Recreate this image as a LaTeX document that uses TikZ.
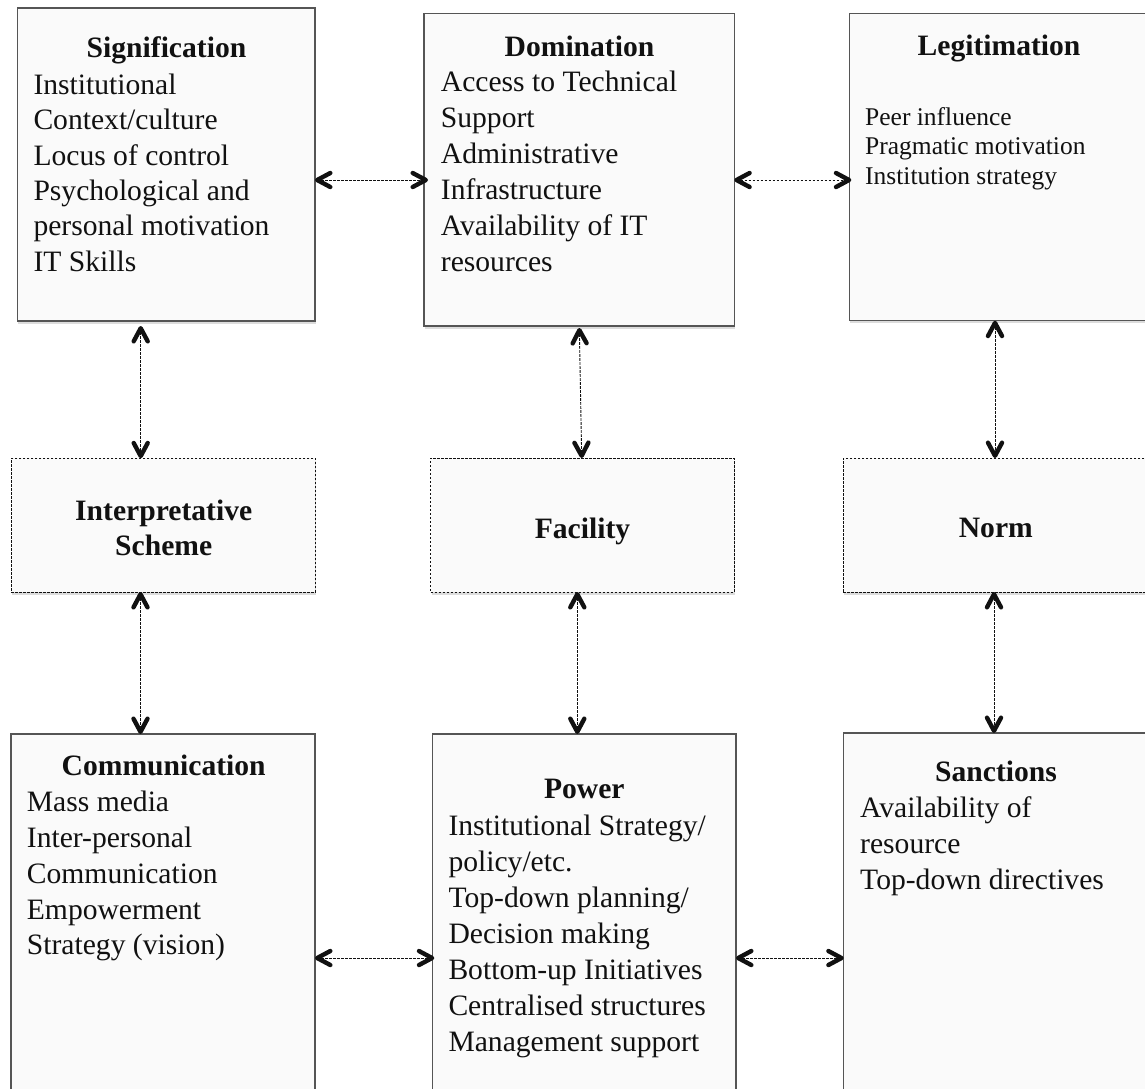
\documentclass[tikz,border=0pt]{standalone}
\usepackage{fontspec}
\setmainfont{Liberation Serif}
\usetikzlibrary{arrows.meta,shadows}
\definecolor{boxfill}{HTML}{FAFAFA}
\definecolor{boxline}{HTML}{555555}
\definecolor{ink}{HTML}{111111}

% A bold open chevron head of fixed size
\pgfdeclarearrow{
  name = Chev,
  setup code = {
    \pgfarrowssettipend{0pt}
    \pgfarrowssetbackend{-17.5pt}
    \pgfarrowssetlineend{-2.2pt}
    \pgfarrowshullpoint{0pt}{0pt}
    \pgfarrowsupperhullpoint{-17.5pt}{9.2pt}
  },
  drawing code = {
    \pgfsetdash{}{0pt}
    \pgfsetlinewidth{4.4pt}
    \pgfsetroundcap
    \pgfsetroundjoin
    \pgfpathmoveto{\pgfpoint{-15.3pt}{7pt}}
    \pgfpathlineto{\pgfpoint{-2.2pt}{0pt}}
    \pgfpathlineto{\pgfpoint{-15.3pt}{-7pt}}
    \pgfusepathqstroke
  }
}

\tikzset{
  panel/.style={draw=boxline, line width=1.3pt, fill=boxfill, inner sep=0pt, outer sep=0pt,
    drop shadow={opacity=0.28, shadow xshift=0.8pt, shadow yshift=-2.6pt}},
  dashpanel/.style={panel, draw=ink, line width=0.9pt, dash pattern=on 2.6pt off 1.4pt},
  heading/.style={font=\bfseries\fontsize{29.6}{35.5}\selectfont, text=ink, inner sep=0pt, anchor=base},
  body/.style={font=\fontsize{29.6}{35.5}\selectfont, text=ink, inner sep=0pt, anchor=base west},
  smallbody/.style={body, font=\fontsize{25.5}{30.6}\selectfont},
  link/.style={draw=ink, line width=0.9pt, dash pattern=on 2.6pt off 1.4pt, arrows={Chev-Chev}}
}
\begin{document}
\begin{tikzpicture}[x=1pt,y=-1pt]
\useasboundingbox (0,0) rectangle (1145,1088);
\clip (0,0) rectangle (1145,1088);

% ---- boxes ----
\node[panel, minimum width=297.7pt, minimum height=313pt] (sig) at (166.15,164.5) {};
\node[panel, minimum width=310.3pt, minimum height=312.7pt] (dom) at (579.15,169.65) {};
\node[panel, minimum width=299.7pt, minimum height=307.4pt] (leg) at (999.15,167) {};

\node[dashpanel, minimum width=304.3pt, minimum height=133.7pt] (interp) at (163.15,525.15) {};
\node[dashpanel, minimum width=303.6pt, minimum height=134pt] (fac) at (582.5,525) {};
\node[dashpanel, minimum width=305.4pt, minimum height=134pt] (norm) at (996,525) {};

\node[panel, minimum width=304pt, minimum height=366pt] (comm) at (163,917) {};
\node[panel, minimum width=303.7pt, minimum height=366pt] (pow) at (584.15,917) {};
\node[panel, minimum width=305.3pt, minimum height=367pt] (sanc) at (996.35,916.5) {};

% ---- texts ----
\node[heading] (sig-t) at (166.5,57) {Signification};
\foreach \t [count=\i] in {Institutional, Context/culture, Locus of control,
    Psychological and, personal motivation, IT Skills}
  \node[body] (sig-\i) at (33.3,{94.3+35.4*(\i-1)}) {\t};

\node[heading] (dom-t) at (579.5,56) {Domination};
\foreach \t [count=\i] in {Access to Technical, Support, Administrative,
    Infrastructure, Availability of IT, resources}
  \node[body] (dom-\i) at (440.7,{91.7+36*(\i-1)}) {\t};

\node[heading] (leg-t) at (999,55) {Legitimation};
\foreach \t [count=\i] in {Peer influence, Pragmatic motivation, Institution strategy}
  \node[smallbody] (leg-\i) at (865,{125+29.7*(\i-1)}) {\t};

\node[heading] (interp-t1) at (163.7,520) {Interpretative};
\node[heading] (interp-t2) at (163.7,555) {Scheme};
\node[heading] (fac-t) at (582.5,538.3) {Facility};
\node[heading] (norm-t) at (995.8,537.7) {Norm};

\node[heading] (comm-t) at (163.7,775) {Communication};
\foreach \t [count=\i] in {Mass media, Inter-personal, Communication,
    Empowerment, Strategy (vision)}
  \node[body] (comm-\i) at (26.7,{811.7+35.8*(\i-1)}) {\t};

\node[heading] (pow-t) at (584.3,798.3) {Power};
\foreach \t [count=\i] in {Institutional Strategy/, policy/etc., Top-down planning/,
    Decision making, Bottom-up Initiatives, Centralised structures, Management support}
  \node[body] (pow-\i) at (448.3,{835+36.1*(\i-1)}) {\t};

\node[heading] (sanc-t) at (996,781) {Sanctions};
\foreach \t [count=\i] in {Availability of, resource, Top-down directives}
  \node[body] (sanc-\i) at (860,{817.5+36*(\i-1)}) {\t};

% ---- guide lines for the connectors ----
\coordinate (rowA) at (0,180);
\coordinate (rowB) at (0,958);
\coordinate (colA) at (140.7,0);
\coordinate (colAb) at (140.5,0);
\coordinate (colBt) at (579.3,0);
\coordinate (colBm) at (581.7,0);
\coordinate (colBb) at (577.3,0);
\coordinate (colC) at (995,0);
\coordinate (colCb) at (994,0);

% ---- connectors ----
\draw[link, shorten >=-4pt] (sig.east |- rowA) -- (dom.west |- rowA);
\draw[link, shorten >=-2pt] (dom.east |- rowA) -- (leg.west |- rowA);
\draw[link, shorten >=-2pt] (comm.east |- rowB) -- (pow.west |- rowB);
\draw[link] (pow.east |- rowB) -- (sanc.west |- rowB);

\draw[link, shorten <=5pt] (sig.south -| colA) -- (interp.north -| colA);
\draw[link] (interp.south -| colAb) -- (comm.north -| colAb);
\draw[link, shorten <=2pt] (dom.south -| colBt) -- (fac.north -| colBm);
\draw[link] (fac.south -| colBb) -- (pow.north -| colBb);
\draw[link] (leg.south -| colC) -- (norm.north -| colC);
\draw[link] (norm.south -| colCb) -- (sanc.north -| colCb);
\end{tikzpicture}
\end{document}
